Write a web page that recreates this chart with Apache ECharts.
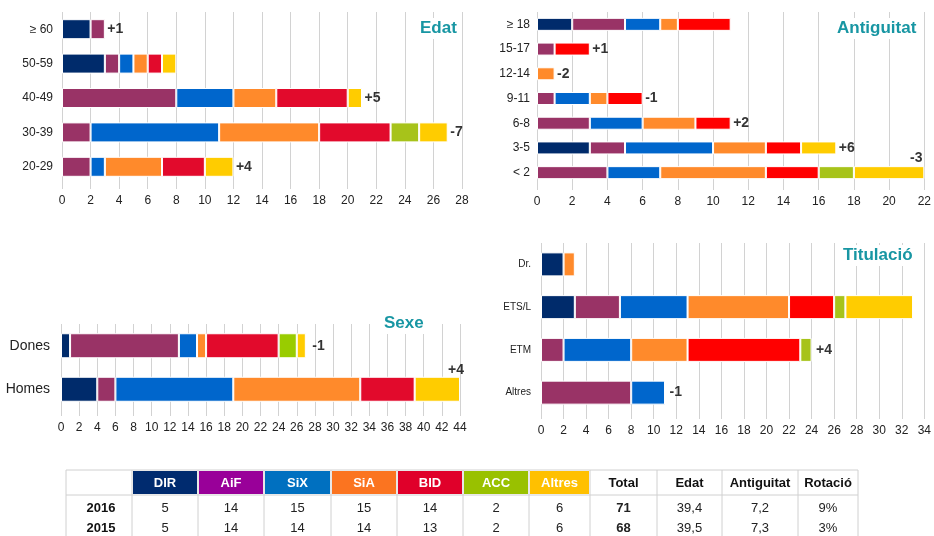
<!DOCTYPE html>
<html>
<head>
<meta charset="utf-8">
<script src="https://cdn.jsdelivr.net/npm/echarts@6/dist/echarts.min.js"></script>
<style>
  html, body { margin: 0; padding: 0; background: #fff; }
  #main { width: 934px; height: 536px; }
</style>
</head>
<body>
<div id="main"></div>
<script>
// categories de cada bloc
const seriesNames = ['DIR', 'AiF', 'SiX', 'SiA', 'BID', 'ACC', 'Altres']

const edatCats = ['≥ 60', '50-59', '40-49', '30-39', '20-29']
const edatDIR = [2, 3, 0, 0, 0]
const edatAiF = [1, 1, 8, 2, 2]
const edatSiX = [0, 1, 4, 9, 1]
const edatSiA = [0, 1, 3, 7, 4]
const edatBID = [0, 1, 5, 5, 3]
const edatACC = [0, 0, 0, 2, 0]
const edatAltres = [0, 1, 1, 2, 2]
const edatCanvi = ['+1', '', '+5', '-7', '+4']

const antigCats = ['≥ 18', '15-17', '12-14', '9-11', '6-8', '3-5', '< 2']
const antigDIR = [2, 0, 0, 0, 0, 3, 0]
const antigAiF = [3, 1, 0, 1, 3, 2, 4]
const antigSiX = [2, 0, 0, 2, 3, 5, 3]
const antigSiA = [1, 0, 1, 1, 3, 3, 6]
const antigBID = [3, 2, 0, 2, 2, 2, 3]
const antigACC = [0, 0, 0, 0, 0, 0, 2]
const antigAltres = [0, 0, 0, 0, 0, 2, 4]
const antigCanvi = ['', '+1', '-2', '-1', '+2', '+6', '-3']

const sexeCats = ['Dones', 'Homes']
const sexeDIR = [1, 4]
const sexeAiF = [12, 2]
const sexeSiX = [2, 13]
const sexeSiA = [1, 14]
const sexeBID = [8, 6]
const sexeACC = [2, 0]
const sexeAltres = [1, 5]
const sexeCanvi = ['-1', '+4']

const titCats = ['Dr.', 'ETS/L', 'ETM', 'Altres']
const titDIR = [2, 3, 0, 0]
const titAiF = [0, 4, 2, 8]
const titSiX = [0, 6, 6, 3]
const titSiA = [1, 9, 5, 0]
const titBID = [0, 4, 10, 0]
const titACC = [0, 1, 1, 0]
const titAltres = [0, 6, 0, 0]
const titCanvi = ['', '', '+4', '-1']

// taula resum
const tableHeads = ['DIR', 'AiF', 'SiX', 'SiA', 'BID', 'ACC', 'Altres', 'Total', 'Edat', 'Antiguitat', 'Rotació']
const tableYears = ['2016', '2015']
const row2016 = ['5', '14', '15', '15', '14', '2', '6', '71', '39,4', '7,2', '9%']
const row2015 = ['5', '14', '14', '14', '13', '2', '6', '68', '39,5', '7,3', '3%']

const colorsA = ['#002b6b', '#993366', '#0066cc', '#ff8a2b', '#e20a2c', '#a7c31a', '#ffcc00'] // Edat
const colorsB = ['#002b6b', '#993366', '#0066cc', '#ff8a2b', '#ff0000', '#a7c31a', '#ffcc00'] // Antiguitat, Titulacio
const colorsC = ['#002b6b', '#993366', '#0066cc', '#ff8a2b', '#e20a2c', '#99cc00', '#ffcc00'] // Sexe
const headColors = ['#002b6f', '#990099', '#0070c0', '#fb7420', '#e0002a', '#99c100', '#ffc000']

const tealTitle = '#1896a3'
const gridCol = '#d2d2d2'

const blocks = [
  { cats: edatCats, vals: [edatDIR, edatAiF, edatSiX, edatSiA, edatBID, edatACC, edatAltres], canvi: edatCanvi,
    colors: colorsA, max: 28, barW: 20, dist: 2, catSize: 12, catMargin: 9,
    grid: { left: 62, top: 12, width: 400, height: 172 } },
  { cats: antigCats, vals: [antigDIR, antigAiF, antigSiX, antigSiA, antigBID, antigACC, antigAltres], canvi: antigCanvi,
    colors: colorsB, max: 22, barW: 13, dist: 2, catSize: 12, catMargin: 7,
    grid: { left: 537, top: 12, width: 391, height: 173 } },
  { cats: sexeCats, vals: [sexeDIR, sexeAiF, sexeSiX, sexeSiA, sexeBID, sexeACC, sexeAltres], canvi: sexeCanvi,
    colors: colorsC, max: 44, barW: 25, dist: 6, catSize: 14, catMargin: 11,
    grid: { left: 61, top: 324, width: 399, height: 87 } },
  { cats: titCats, vals: [titDIR, titAiF, titSiX, titSiA, titBID, titACC, titAltres], canvi: titCanvi,
    colors: colorsB, max: 34, barW: 24, dist: 4, catSize: 10, catMargin: 10,
    grid: { left: 541, top: 243, width: 386, height: 171 } }
]

// etiquetes col·locades a sobre en lloc de a la dreta
const labelAbove = { '1-6': { offset: [-8, 0], distance: 7 }, '2-1': { offset: [-4, 0], distance: 12 } }

const grids = []
const xAxes = []
const yAxes = []
const series = []

blocks.forEach(function (b, k) {
  grids.push(b.grid)
  xAxes.push({
    gridIndex: k, type: 'value', min: 0, max: b.max, interval: 2,
    axisLine: { show: false },
    axisTick: { show: true, length: 5, lineStyle: { color: gridCol } },
    splitLine: { show: true, lineStyle: { color: gridCol, width: 1 } },
    axisLabel: { color: '#222', fontSize: 12, fontFamily: 'Liberation Sans, Arial', margin: 11 }
  })
  yAxes.push({
    gridIndex: k, type: 'category', data: b.cats, inverse: true,
    axisLine: { show: false }, axisTick: { show: false },
    axisLabel: { color: '#222', fontSize: b.catSize, fontFamily: 'Liberation Sans, Arial', margin: b.catMargin }
  })
  b.vals.forEach(function (v, s) {
    series.push({
      type: 'bar', name: seriesNames[s], xAxisIndex: k, yAxisIndex: k, stack: 'g' + k,
      barWidth: b.barW, silent: true,
      itemStyle: { color: b.colors[s], borderColor: '#fff', borderWidth: 1 },
      data: v.map(function (x) { return x === 0 ? '-' : x })
    })
  })
  // canvi respecte l'any anterior, al final de cada barra
  const pts = []
  b.cats.forEach(function (c, i) {
    if (!b.canvi[i]) return
    let total = 0
    b.vals.forEach(function (v) { total += v[i] })
    const item = { value: [total, i], name: b.canvi[i] }
    const above = labelAbove[k + '-' + i]
    if (above) item.label = { position: 'top', offset: above.offset, distance: above.distance }
    pts.push(item)
  })
  series.push({
    type: 'scatter', xAxisIndex: k, yAxisIndex: k, symbolSize: 1, silent: true,
    itemStyle: { color: 'rgba(0,0,0,0)' },
    label: {
      show: true, position: 'right', distance: b.dist, formatter: '{b}',
      color: '#000', fontSize: 14, fontWeight: 'bold', fontFamily: 'Liberation Sans, Arial'
    },
    data: pts
  })
})

const titles = [
  { text: 'Edat', left: 417, top: 18 },
  { text: 'Antiguitat', left: 834, top: 18 },
  { text: 'Sexe', left: 381, top: 313 },
  { text: 'Titulació', left: 840, top: 245 }
].map(function (t) {
  return {
    text: t.text, left: t.left, top: t.top, padding: [2, 3], backgroundColor: '#fff',
    textStyle: { color: tealTitle, fontSize: 17, fontWeight: 'bold', fontFamily: 'Liberation Sans, Arial' }
  }
})

// taula amb elements graphic
const colX = [66, 132, 198, 264, 331, 397, 463, 529, 590, 657, 722, 798, 858]
const tTop = 470
const tHead = 494
const tBottom = 537
const rowY = [508, 528]
const lineCol = '#d0d0d0'
const graphic = []
graphic.push({ type: 'line', shape: { x1: colX[0], y1: tTop, x2: colX[colX.length - 1], y2: tTop }, style: { stroke: lineCol, lineWidth: 1 } })
graphic.push({ type: 'line', shape: { x1: colX[0], y1: tHead + 1, x2: colX[colX.length - 1], y2: tHead + 1 }, style: { stroke: lineCol, lineWidth: 1 } })
colX.forEach(function (x) {
  graphic.push({ type: 'line', shape: { x1: x, y1: tTop, x2: x, y2: tBottom }, style: { stroke: lineCol, lineWidth: 1 } })
})
tableHeads.forEach(function (h, i) {
  const x0 = colX[i + 1]
  const x1 = colX[i + 2]
  const colored = i < headColors.length
  if (colored) {
    graphic.push({ type: 'rect', shape: { x: x0 + 1, y: tTop + 1, width: x1 - x0 - 2, height: tHead - tTop - 1 }, style: { fill: headColors[i] } })
  }
  graphic.push({
    type: 'text', x: (x0 + x1) / 2, y: (tTop + tHead) / 2 + 1,
    style: { text: h, fill: colored ? '#fff' : '#111', font: 'bold 13px "Liberation Sans", Arial', align: 'center', verticalAlign: 'middle' }
  })
})
const rows = [row2016, row2015]
rows.forEach(function (r, j) {
  graphic.push({
    type: 'text', x: (colX[0] + colX[1]) / 2 + 2, y: rowY[j],
    style: { text: tableYears[j], fill: '#111', font: 'bold 13px "Liberation Sans", Arial', align: 'center', verticalAlign: 'middle' }
  })
  r.forEach(function (v, i) {
    const bold = tableHeads[i] === 'Total'
    graphic.push({
      type: 'text', x: (colX[i + 1] + colX[i + 2]) / 2, y: rowY[j],
      style: { text: v, fill: '#222', font: (bold ? 'bold ' : '') + '13px "Liberation Sans", Arial', align: 'center', verticalAlign: 'middle' }
    })
  })
})

const chart = echarts.init(document.getElementById('main'))
chart.setOption({
  animation: false,
  backgroundColor: '#fff',
  title: titles,
  grid: grids,
  xAxis: xAxes,
  yAxis: yAxes,
  series: series,
  graphic: graphic
})
</script>
</body>
</html>
